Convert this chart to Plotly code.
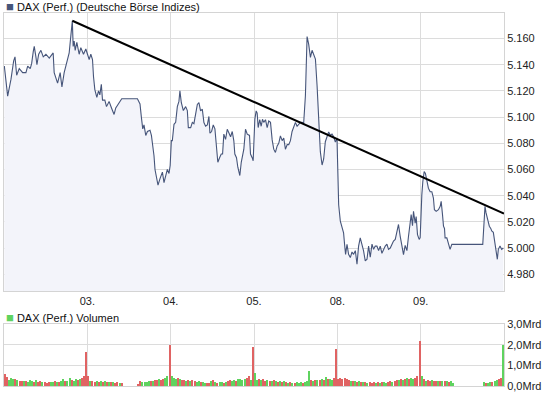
import plotly.graph_objects as go

# ---------------- data ----------------
day_labels = ["03.", "04.", "05.", "08.", "09."]
day_ticks = [1, 2, 3, 4, 5]

# time in trading-day units (0 = start of the 02. session), DAX level in points
price_t = [
    0.004, 0.044, 0.084, 0.116, 0.132, 0.152, 0.183, 0.224, 0.263, 0.284, 0.315, 0.332,
    0.351, 0.363, 0.383, 0.395, 0.416, 0.443, 0.471, 0.503, 0.543, 0.571, 0.590, 0.602,
    0.643, 0.674, 0.695, 0.722, 0.743, 0.763, 0.782, 0.802, 0.820, 0.830, 0.842, 0.854,
    0.874, 0.902, 0.922, 0.954, 0.982,
    1.002, 1.022, 1.042, 1.062, 1.074, 1.090, 1.114, 1.134, 1.150, 1.168, 1.182, 1.210,
    1.230, 1.261, 1.290, 1.321, 1.341, 1.381, 1.413, 1.601, 1.632, 1.649, 1.665, 1.680,
    1.701, 1.721, 1.752, 1.769, 1.788, 1.800, 1.812, 1.832, 1.848, 1.872, 1.901, 1.920,
    1.940, 1.960, 1.980, 1.994,
    2.008, 2.020, 2.040, 2.060, 2.080, 2.099, 2.111, 2.128, 2.152, 2.180, 2.200, 2.212,
    2.240, 2.260, 2.279, 2.299, 2.320, 2.339, 2.359, 2.380, 2.399, 2.419, 2.440, 2.459,
    2.471, 2.491, 2.511, 2.531, 2.551, 2.566, 2.587, 2.607, 2.623, 2.638, 2.659, 2.679,
    2.698, 2.719, 2.739, 2.758, 2.770, 2.790, 2.806, 2.830, 2.847, 2.866, 2.878, 2.898,
    2.919, 2.946, 2.958, 2.978, 2.990,
    3.010, 3.026, 3.038, 3.050, 3.069, 3.086, 3.102, 3.117, 3.138, 3.158, 3.177, 3.198,
    3.218, 3.237, 3.257, 3.278, 3.297, 3.317, 3.338, 3.357, 3.377, 3.398, 3.417, 3.437,
    3.457, 3.477, 3.497, 3.517, 3.537, 3.557, 3.577, 3.596, 3.617, 3.629, 3.637, 3.656,
    3.677, 3.697, 3.716, 3.737, 3.757, 3.776, 3.796, 3.817, 3.836, 3.856, 3.877, 3.896,
    3.916, 3.936, 3.956, 3.976, 3.996,
    4.006, 4.016, 4.036, 4.056, 4.075, 4.087, 4.099, 4.116, 4.135, 4.156, 4.176, 4.195,
    4.216, 4.236, 4.255, 4.275, 4.296, 4.315, 4.335, 4.356, 4.375, 4.395, 4.416, 4.435,
    4.455, 4.475, 4.495, 4.515, 4.535, 4.554, 4.575, 4.595, 4.614, 4.635, 4.655, 4.674,
    4.695, 4.715, 4.734, 4.754, 4.775, 4.794, 4.814, 4.835, 4.854, 4.874, 4.886, 4.902,
    4.914, 4.934, 4.946, 4.962, 4.982, 4.994,
    5.002, 5.014, 5.026, 5.042, 5.057, 5.074, 5.093, 5.114, 5.134, 5.153, 5.165, 5.186,
    5.213, 5.234, 5.246, 5.262, 5.274, 5.286, 5.293, 5.314, 5.333, 5.353, 5.374, 5.745,
    5.760, 5.772, 5.784, 5.800, 5.811, 5.824, 5.841, 5.853, 5.872, 5.884, 5.901, 5.920,
    5.932, 5.952, 5.972, 5.992,
]
price_v = [
    5139, 5116, 5129, 5143, 5146, 5132, 5137, 5134, 5134, 5139, 5137, 5141,
    5150, 5154, 5146, 5140, 5148, 5151, 5146, 5148, 5145, 5148, 5149, 5134,
    5126, 5134, 5123, 5134, 5139, 5144, 5149, 5162, 5173.6, 5154, 5158, 5151,
    5157, 5148, 5153, 5148, 5152,
    5148, 5144, 5148, 5144, 5131, 5121, 5115, 5120, 5117, 5125, 5113, 5113,
    5108, 5112, 5107, 5102, 5107, 5111, 5114, 5114, 5110, 5099.6, 5091, 5094,
    5086, 5089, 5090, 5086, 5078, 5070.5, 5060, 5053, 5048, 5053, 5058, 5050,
    5055, 5060, 5057, 5063,
    5082, 5082, 5094.5, 5096, 5108, 5112, 5120, 5111, 5105, 5108, 5105, 5092,
    5092, 5096, 5095, 5103, 5109.7, 5111, 5104.7, 5106, 5095.8, 5093, 5094, 5100.5,
    5087.7, 5089, 5094, 5091, 5079, 5065.5, 5069, 5071.8, 5071.8, 5087, 5083, 5090.7,
    5088, 5085, 5089, 5081.9, 5071.8, 5069, 5061.7, 5055.4, 5065.5, 5071.8, 5075.5, 5090.7,
    5087, 5086, 5071.8, 5069, 5066.7,
    5098.3, 5104.7, 5103, 5092, 5098, 5093, 5098.3, 5096, 5098, 5092, 5097, 5096,
    5082.6, 5075.5, 5073, 5078, 5080, 5085.7, 5082, 5084, 5075.5, 5079, 5079, 5082,
    5089, 5093.3, 5096, 5093, 5095, 5096, 5096, 5095.4, 5116.5, 5145.6, 5161.5, 5155.7,
    5145.6, 5151, 5147, 5144.3, 5124, 5093.7, 5073.6, 5063.4, 5068, 5081.2, 5086.2, 5088.7,
    5086.2, 5087, 5085, 5081, 5083.7,
    5061, 5033, 5020.5, 5015.4, 5011.6, 5002.8, 4995.2, 5002.8, 4995.2, 4992.7, 4997, 4995.2,
    4998, 4987.6, 5001.5, 5007.8, 5003, 4997.8, 4990.2, 4991.5, 5001.5, 4993, 5003, 4999,
    5001.5, 5001.5, 4998, 5001.5, 4996, 4999, 5001.5, 5003, 4999, 5000, 5003, 5005.3,
    5006.6, 5013, 5018, 5009.1, 5000.2, 4995, 5002, 4998, 5009, 5019, 5025.5, 5017,
    5028, 5019, 5024, 5010.3, 5006.6, 5008,
    5023, 5040.7, 5050.8, 5058.4, 5057, 5052, 5045.7, 5043, 5043, 5038.2, 5029.3, 5028,
    5029.3, 5031.9, 5035.7, 5025.5, 5016.7, 5015, 5007.8, 5007.8, 5004, 4999, 5002.8, 5002.8,
    5019, 5031.9, 5027, 5021.7, 5020, 5016.7, 5015, 5013, 5012, 5006.6, 5002.8, 4991.4,
    4999, 5001.5, 4999, 5000,
]

trend_t = [0.820, 6.0]
trend_v = [5173.6, 5026.3]

# volume per 1/40 trading-day slot (Mrd), and direction of the slot (g = up, d = down)
vol_02 = [0.56, 0.43, 0.25, 0.35, 0.30, 0.30, 0.25, 0.20, 0.20, 0.22, 0.20, 0.18, 0.25, 0.20,
          0.15, 0.25, 0.15, 0.22, 0.18, 0.15, 0.12, 0.15, 0.18, 0.18, 0.20, 0.18, 0.15, 0.20,
          0.30, 0.22, 0.20, 0.35, 0.25, 0.20, 0.30, 0.25, 0.30, 0.35, 0.48, 1.62]
dir_02 = "ddgggdgddg" "dgggdgddgd" "ddggdgdggd" "ggdggdgddd"
vol_03 = [0.48, 0.20, 0.20, 0.18, 0.22, 0.18, 0.20, 0.18, 0.20, 0.15, 0.18, 0.15, 0.15, 0.12,
          0.15, 0.12, 0.10, 0, 0, 0, 0, 0, 0, 0, 0.08, 0.20, 0.15, 0.15, 0.18, 0.20, 0.20,
          0.22, 0.25, 0.25, 0.30, 0.28, 0.30, 0.35, 0.45, 2.00]
dir_03 = "dgddgdgdgd" "gdgddgdggg" "ggggddgggg" "dgddgddggd"
vol_04 = [0.48, 0.35, 0.30, 0.35, 0.30, 0.25, 0.25, 0.20, 0.25, 0.20, 0.25, 0.20, 0.15, 0.20,
          0.18, 0.15, 0.12, 0.12, 0.12, 0.20, 0.25, 0.15, 0.12, 0.15, 0.18, 0.12, 0.15, 0.20,
          0.25, 0.20, 0.25, 0.20, 0.30, 0.30, 0.25, 0.30, 0.35, 0.45, 0.25, 1.90]
dir_04 = "gggdgddgdg" "ddggdggddg" "dgdggdgddg" "gdggggddgd"
vol_05 = [0.60, 0.25, 0.30, 0.25, 0.30, 0.20, 0.25, 0.20, 0.22, 0.25, 0.20, 0.18, 0.20, 0.15,
          0.20, 0.15, 0.12, 0.15, 0.12, 0.10, 0.15, 0.12, 0.15, 0.12, 0.15, 0.20, 0.72, 0.25,
          0.20, 0.25, 0.28, 0.25, 0.30, 0.25, 0.40, 0.30, 0.30, 0.25, 0.38, 1.80]
dir_05 = "ggdgddgdgd" "gdgdgdgdgd" "gggdgggdgd" "gdgdgdggdd"
vol_08 = [0.30, 0.35, 0.30, 0.35, 0.30, 0.25, 0.20, 0.20, 0.20, 0.18, 0.20, 0.15, 0.18, 0.15,
          0.12, 0.15, 0.12, 0.15, 0.12, 0.15, 0.12, 0.15, 0.15, 0.12, 0.15, 0.20, 0.15, 0.20,
          0.25, 0.25, 0.30, 0.25, 0.30, 0.35, 0.30, 0.35, 0.30, 0.35, 0.45, 2.15]
dir_08 = "ddddddgdgd" "gdgdgdddgd" "gdggddgddg" "dgdgdggddd"
vol_09 = [0.48, 0.30, 0.20, 0.25, 0.20, 0.25, 0.20, 0.22, 0.20, 0.20, 0.22, 0.20, 0.20, 0.15,
          0.20, 0.12, 0, 0, 0, 0, 0, 0, 0, 0, 0, 0, 0, 0, 0, 0,
          0.15, 0.12, 0.10, 0.15, 0.15, 0.20, 0.25, 0.30, 0.35, 2.00]
dir_09 = "gdgddgddgd" "gdgdgggggg" "gggggggggg" "gdggdggddg"
vol_days = [vol_02, vol_03, vol_04, vol_05, vol_08, vol_09]
dir_days = [dir_02, dir_03, dir_04, dir_05, dir_08, dir_09]
SLOTS = 40

# ---------------- build ----------------
vol_t, vol_v, vol_c = [], [], []
for d, (vals, dirs) in enumerate(zip(vol_days, dir_days)):
    for i, v in enumerate(vals):
        if v <= 0:
            continue
        vol_t.append(d + (i + 0.5) / SLOTS)
        vol_v.append(v)
        vol_c.append("#5fd35f" if dirs[i] == "g" else "#e06363")

FONT = "Liberation Sans, Arial, sans-serif"
GRID = "#dcdcdc"

fig = go.Figure()
fig.add_trace(go.Scatter(
    x=price_t, y=price_v, mode="lines", xaxis="x", yaxis="y",
    line=dict(color="#46557a", width=1.1), fill="tozeroy", fillcolor="#f3f4fa",
    hoverinfo="skip", showlegend=False))
fig.add_trace(go.Scatter(
    x=trend_t, y=trend_v, mode="lines", xaxis="x", yaxis="y",
    line=dict(color="#000000", width=2), showlegend=False))
fig.add_trace(go.Bar(
    x=vol_t, y=vol_v, xaxis="x2", yaxis="y2", width=0.6 / SLOTS,
    marker=dict(color=vol_c, line=dict(width=0)), showlegend=False))

axis_common = dict(showgrid=True, gridcolor=GRID, gridwidth=1, zeroline=False,
                   showline=True, linecolor="#d4d4d4", linewidth=1, mirror=True,
                   ticks="", ticklen=0,
                   tickfont=dict(family=FONT, size=11, color="#222222"))

fig.update_layout(
    width=545, height=395,
    margin=dict(l=3, r=41, t=13, b=6),
    paper_bgcolor="white", plot_bgcolor="white",
    separators=",.",
    bargap=0,
    xaxis=dict(domain=[0, 1], range=[0, 6], anchor="y", tickmode="array",
               tickvals=day_ticks, ticktext=day_labels, **axis_common),
    xaxis2=dict(domain=[0, 1], range=[0, 6], anchor="y2", matches="x", tickmode="array",
                tickvals=day_ticks, ticktext=day_labels, showticklabels=False,
                **axis_common),
    yaxis=dict(domain=[0.254, 1], range=[4967, 5179.5], side="right", anchor="x",
               tick0=4980, dtick=20, tickformat=",d", **axis_common),
    yaxis2=dict(domain=[0, 0.165], range=[0, 3.0], side="right", anchor="x2",
                tick0=0, dtick=1, tickformat=".1f", ticksuffix="Mrd", **axis_common),
)

fig.add_annotation(xref="paper", yref="paper", x=0, y=1.0, yshift=7,
                   xanchor="left", yanchor="middle", showarrow=False,
                   text="<span style='color:#46557a;font-size:13px'>■</span> DAX (Perf.) (Deutsche Börse Indizes)",
                   font=dict(family=FONT, size=11, color="#111111"))
fig.add_annotation(xref="paper", yref="paper", x=0, y=0.165, yshift=7,
                   xanchor="left", yanchor="middle", showarrow=False,
                   text="<span style='color:#5fd35f;font-size:13px'>■</span> DAX (Perf.) Volumen",
                   font=dict(family=FONT, size=11, color="#111111"))

fig.write_html("out.html", config={"displayModeBar": False},
               post_script="document.body.style.margin='0';document.body.style.overflow='hidden';")
